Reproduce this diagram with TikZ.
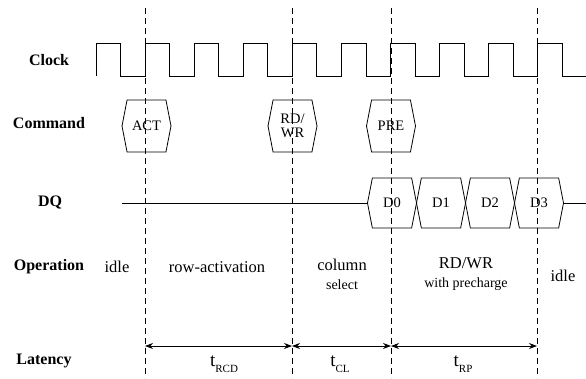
\documentclass[tikz,border=0pt]{standalone}
\usepackage{fontspec}
\setmainfont{Liberation Serif}
\usetikzlibrary{arrows.meta,positioning,shapes.symbols}

\newcommand{\latsub}[1]{t\raisebox{-0.7ex}{\fontsize{11}{11}\selectfont #1}}

\begin{document}
\begin{tikzpicture}[x=1pt, y=-1pt,
    rowlabel/.style={font=\fontsize{16}{17}\selectfont\bfseries},
    oplabel/.style={font=\fontsize{16.5}{19}\selectfont, align=center},
    hexbox/.style={signal, signal to=east and west, signal pointer angle=158,
                draw, line width=0.8pt, minimum width=49pt, minimum height=52pt,
                inner sep=0pt, font=\fontsize{14.5}{14.5}\selectfont, align=center},
    dqbox/.style={hexbox, minimum height=50pt},
    marker/.style={line width=0.9pt, dash pattern=on 6pt off 4pt},
    clk/.style={line width=0.95pt},
    latarrow/.style={line width=0.8pt,
                {Stealth[length=8pt,width=6pt]}-{Stealth[length=8pt,width=6pt]}},
]
\useasboundingbox (0,0) rectangle (586,378);

% time markers
\foreach \x/\n in {145/1, 292/2, 391/3, 537/4} {
    \coordinate (top\n) at (\x,8);
    \coordinate (bot\n) at (\x,378);
    \draw[marker] (top\n) -- (bot\n);
}

% row labels
\node[rowlabel] (lclk) at (49,60) {Clock};
\node[rowlabel] (lcmd) at (49,123) {Command};
\node[rowlabel] (ldq)  at (50,202) {DQ};
\node[rowlabel] (lop)  at (49,267) {Operation};
\node[rowlabel] (llat) at (44,361) {Latency};

% clock
\draw[clk] (96,76) \foreach \k in {0,...,9} {
    -- ++(0,-33) -- ++(24.55,0) -- ++(0,33) -- ++(24.55,0)
};

% commands
\node[hexbox] (act) at (146.5,126) {ACT};
\node[hexbox] (rdwr) at (292.5,126) {RD/\\WR};
\node[hexbox] (pre) at (391,126) {PRE};

% data bus
\node[dqbox] (d0) at (392,203) {D0};
\node[dqbox] (d1) at (441,203) {D1};
\node[dqbox] (d2) at (490,203) {D2};
\node[dqbox] (d3) at (539,203) {D3};
\coordinate (dqstart) at (122,203);
\coordinate (dqend) at (586,203);
\draw[line width=0.8pt] (dqstart) -- (d0.west);
\draw[line width=0.8pt] (d3.east) -- (dqend);

% operations
\node[oplabel] (idle1) at (117,267) {idle};
\node[oplabel] (rowact) at (217,267) {row-activation};
\node[oplabel] (colsel) at (342,274) {column\\{\fontsize{14}{16}\selectfont select}};
\node[oplabel] (rdwrop) at (466,274) {RD/WR\\{\fontsize{14}{16}\selectfont with precharge}};
\node[oplabel] (idle2) at (563,276) {idle};

% latency
\coordinate (lat1) at (145,346);
\coordinate (lat2) at (292,346);
\coordinate (lat3) at (391,346);
\coordinate (lat4) at (537,346);
\draw[latarrow] (lat1) -- (lat2);
\draw[latarrow] (lat2) -- (lat3);
\draw[latarrow] (lat3) -- (lat4);
\node[oplabel, font=\fontsize{19}{19}\selectfont] (trcd) at (224,364) {\latsub{RCD}};
\node[oplabel, font=\fontsize{19}{19}\selectfont] (tcl) at (340,364) {\latsub{CL}};
\node[oplabel, font=\fontsize{19}{19}\selectfont] (trp) at (463,364) {\latsub{RP}};

\end{tikzpicture}
\end{document}
